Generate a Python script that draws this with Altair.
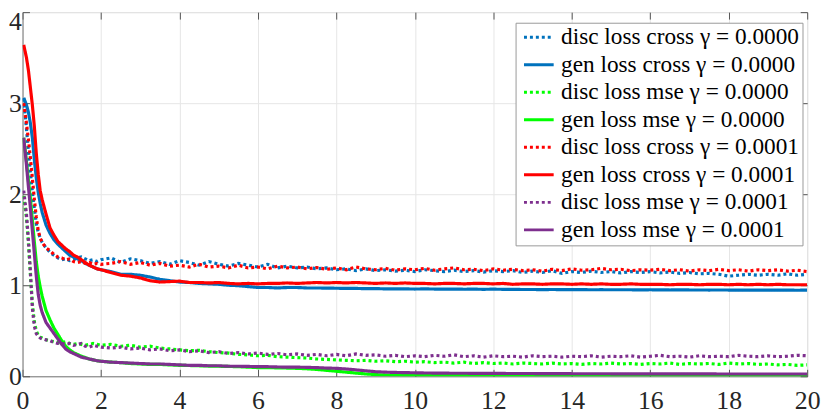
import altair as alt
import pandas as pd

# ---- data ----
X_EARLY = [0.03, 0.1, 0.15, 0.2, 0.25, 0.3, 0.35, 0.4, 0.45, 0.5, 0.6, 0.7, 0.8, 0.9,
           1.0, 1.1, 1.2, 1.3, 1.4, 1.5, 1.6, 1.7, 1.8, 1.9, 2.0]
X_LATE = [2.25, 2.5, 2.75, 3.0, 3.25, 3.5, 3.75, 4.0, 4.25, 4.5, 4.75, 5.0, 5.25, 5.5, 5.75,
          6.0, 6.25, 6.5, 6.75, 7.0, 7.25, 7.5, 7.75, 8.0, 8.25, 8.5, 8.75, 9.0, 9.25, 9.5,
          9.75, 10.0, 10.25, 10.5, 10.75, 11.0, 11.25, 11.5, 11.75, 12.0, 12.25, 12.5, 12.75,
          13.0, 13.25, 13.5, 13.75, 14.0, 14.25, 14.5, 14.75, 15.0, 15.25, 15.5, 15.75, 16.0,
          16.25, 16.5, 16.75, 17.0, 17.25, 17.5, 17.75, 18.0, 18.25, 18.5, 18.75, 19.0, 19.25,
          19.5, 19.75, 20.0]
EPOCH = X_EARLY + X_LATE

DISC_CROSS_0 = [3.05, 2.72, 2.47, 2.24, 2.03, 1.85, 1.68, 1.58, 1.52, 1.47, 1.41, 1.36, 1.33, 1.30,
                1.28, 1.29, 1.27, 1.28, 1.30, 1.31, 1.29, 1.27, 1.28, 1.26, 1.28,
                1.30, 1.25, 1.29, 1.27, 1.24, 1.26, 1.23, 1.27, 1.25, 1.22, 1.26, 1.23, 1.21, 1.24,
                1.22, 1.20, 1.23, 1.19, 1.21, 1.19,
                1.20, 1.18, 1.19, 1.17, 1.18, 1.16, 1.18, 1.16, 1.17, 1.155, 1.165, 1.15,
                1.17, 1.16, 1.15, 1.165, 1.15, 1.16, 1.145, 1.16,
                1.15, 1.16, 1.14, 1.155, 1.14, 1.16, 1.13, 1.15,
                1.14, 1.155, 1.14, 1.15, 1.135, 1.15, 1.14, 1.15,
                1.135, 1.145, 1.13, 1.14, 1.125, 1.13, 1.12, 1.10,
                1.11, 1.12, 1.11, 1.12, 1.11, 1.125, 1.11, 1.12]
GEN_CROSS_0 = [3.06, 2.98, 2.90, 2.78, 2.62, 2.38, 2.18, 2.02, 1.90, 1.80, 1.66, 1.57, 1.50, 1.45,
               1.41, 1.37, 1.33, 1.31, 1.29, 1.27, 1.24, 1.22, 1.20, 1.18, 1.17,
               1.15, 1.12, 1.12, 1.11, 1.09, 1.065, 1.05, 1.035, 1.03, 1.02, 1.015, 1.01, 1.0,
               0.995, 0.985, 0.975, 0.975, 0.97, 0.975, 0.975,
               0.97, 0.97, 0.968, 0.967, 0.965, 0.965, 0.962, 0.963, 0.96, 0.96, 0.96, 0.958,
               0.96, 0.958, 0.957, 0.958, 0.956, 0.957, 0.955, 0.957,
               0.955, 0.955, 0.953, 0.953, 0.952, 0.953, 0.952, 0.951,
               0.952, 0.95, 0.951, 0.95, 0.95, 0.95, 0.949, 0.95,
               0.949, 0.948, 0.949, 0.948, 0.948, 0.947, 0.948, 0.947,
               0.947, 0.946, 0.947, 0.946, 0.946, 0.946, 0.945, 0.946]
DISC_MSE_0 = [1.98, 1.74, 1.46, 1.12, 0.80, 0.60, 0.50, 0.45, 0.43, 0.42, 0.40, 0.39, 0.38, 0.37,
              0.37, 0.38, 0.36, 0.35, 0.36, 0.35, 0.34, 0.35, 0.36, 0.35, 0.34,
              0.35, 0.33, 0.34, 0.32, 0.33, 0.31, 0.30, 0.29, 0.28, 0.285, 0.27, 0.26, 0.255,
              0.24, 0.235, 0.225, 0.23, 0.215, 0.21, 0.205,
              0.20, 0.19, 0.185, 0.18, 0.175, 0.17, 0.175, 0.165, 0.17, 0.16, 0.165, 0.155,
              0.16, 0.15, 0.155, 0.145, 0.155, 0.14, 0.15, 0.14,
              0.145, 0.135, 0.145, 0.14, 0.135, 0.145, 0.135, 0.14,
              0.13, 0.14, 0.135, 0.145, 0.135, 0.14, 0.13, 0.14,
              0.135, 0.145, 0.13, 0.14, 0.135, 0.14, 0.13, 0.145,
              0.135, 0.14, 0.13, 0.135, 0.125, 0.13, 0.12, 0.125]
GEN_MSE_0 = [2.62, 2.36, 2.15, 1.95, 1.72, 1.48, 1.26, 1.10, 0.98, 0.88, 0.72, 0.62, 0.53, 0.46,
             0.39, 0.33, 0.29, 0.26, 0.24, 0.22, 0.205, 0.19, 0.18, 0.17, 0.165,
             0.155, 0.15, 0.14, 0.135, 0.13, 0.13, 0.125, 0.12, 0.118, 0.115, 0.112, 0.11, 0.108,
             0.105, 0.10, 0.095, 0.095, 0.092, 0.09, 0.087,
             0.082, 0.075, 0.065, 0.055, 0.045, 0.035, 0.025, 0.018, 0.014, 0.012, 0.01, 0.009,
             0.009, 0.008, 0.008, 0.008, 0.007, 0.007, 0.007, 0.007,
             0.006, 0.006, 0.006, 0.006, 0.006, 0.006, 0.005, 0.005,
             0.005, 0.005, 0.005, 0.005, 0.005, 0.005, 0.005, 0.005,
             0.005, 0.005, 0.005, 0.005, 0.005, 0.005, 0.005, 0.005,
             0.004, 0.004, 0.004, 0.004, 0.004, 0.004, 0.004, 0.004]
DISC_CROSS_1 = [3.00, 2.78, 2.60, 2.40, 2.18, 1.95, 1.75, 1.60, 1.52, 1.47, 1.41, 1.38, 1.34, 1.31,
                1.30, 1.28, 1.29, 1.26, 1.25, 1.26, 1.24, 1.25, 1.23, 1.24, 1.23,
                1.24, 1.26, 1.23, 1.25, 1.22, 1.24, 1.21, 1.22, 1.20, 1.23, 1.20, 1.21, 1.19, 1.22,
                1.19, 1.20, 1.18, 1.21, 1.19, 1.20,
                1.18, 1.195, 1.175, 1.19, 1.17, 1.20, 1.18, 1.17, 1.185, 1.165, 1.18, 1.17,
                1.185, 1.165, 1.18, 1.19, 1.17, 1.175, 1.16, 1.18,
                1.165, 1.175, 1.16, 1.17, 1.155, 1.175, 1.16, 1.18,
                1.165, 1.17, 1.185, 1.17, 1.175, 1.16, 1.17, 1.165,
                1.175, 1.16, 1.17, 1.155, 1.17, 1.16, 1.175, 1.16,
                1.17, 1.155, 1.17, 1.16, 1.17, 1.155, 1.165, 1.15]
GEN_CROSS_1 = [3.64, 3.50, 3.36, 3.17, 2.98, 2.75, 2.45, 2.22, 2.04, 1.94, 1.78, 1.63, 1.55, 1.48,
               1.44, 1.40, 1.37, 1.33, 1.31, 1.28, 1.25, 1.22, 1.20, 1.18, 1.17,
               1.14, 1.11, 1.10, 1.08, 1.05, 1.035, 1.04, 1.045, 1.03, 1.03, 1.025, 1.03, 1.02,
               1.015, 1.02, 1.015, 1.02, 1.02, 1.025, 1.02,
               1.025, 1.03, 1.025, 1.03, 1.025, 1.03, 1.025, 1.02, 1.025, 1.02, 1.025, 1.02,
               1.02, 1.015, 1.02, 1.02, 1.015, 1.02, 1.02, 1.015,
               1.02, 1.01, 1.015, 1.015, 1.01, 1.015, 1.015, 1.01,
               1.015, 1.01, 1.015, 1.01, 1.01, 1.015, 1.01, 1.01,
               1.01, 1.005, 1.01, 1.01, 1.005, 1.01, 1.01, 1.005,
               1.01, 1.005, 1.01, 1.005, 1.01, 1.005, 1.005, 1.005]
DISC_MSE_1 = [2.04, 1.78, 1.50, 1.15, 0.75, 0.55, 0.47, 0.44, 0.42, 0.41, 0.40, 0.39, 0.37, 0.36,
              0.36, 0.35, 0.36, 0.34, 0.35, 0.36, 0.33, 0.32, 0.34, 0.33, 0.32,
              0.31, 0.32, 0.30, 0.31, 0.29, 0.30, 0.28, 0.29, 0.27, 0.28, 0.26, 0.27, 0.25,
              0.26, 0.245, 0.255, 0.24, 0.25, 0.235, 0.245,
              0.23, 0.24, 0.225, 0.24, 0.225, 0.245, 0.23, 0.235, 0.22, 0.23, 0.215, 0.225,
              0.215, 0.23, 0.22, 0.235, 0.215, 0.225, 0.21, 0.225,
              0.215, 0.22, 0.21, 0.225, 0.215, 0.22, 0.21, 0.22,
              0.215, 0.225, 0.21, 0.22, 0.215, 0.225, 0.21, 0.22,
              0.23, 0.215, 0.22, 0.21, 0.225, 0.215, 0.22, 0.215,
              0.23, 0.22, 0.215, 0.225, 0.215, 0.22, 0.23, 0.225]
GEN_MSE_1 = [2.62, 2.32, 2.08, 1.85, 1.60, 1.35, 1.10, 0.90, 0.78, 0.70, 0.59, 0.53, 0.47, 0.41,
             0.35, 0.30, 0.27, 0.25, 0.23, 0.21, 0.20, 0.19, 0.18, 0.17, 0.165,
             0.155, 0.15, 0.145, 0.14, 0.135, 0.135, 0.13, 0.125, 0.12, 0.12, 0.115, 0.115, 0.11,
             0.11, 0.108, 0.105, 0.105, 0.102, 0.10, 0.10,
             0.098, 0.095, 0.09, 0.087, 0.08, 0.07, 0.06, 0.05, 0.045, 0.042, 0.04, 0.038,
             0.036, 0.035, 0.034, 0.033, 0.033, 0.032, 0.032, 0.031,
             0.031, 0.030, 0.030, 0.030, 0.029, 0.029, 0.029, 0.028,
             0.028, 0.028, 0.028, 0.027, 0.027, 0.027, 0.027, 0.027,
             0.026, 0.026, 0.026, 0.026, 0.026, 0.026, 0.025, 0.025,
             0.025, 0.025, 0.025, 0.025, 0.025, 0.025, 0.025, 0.025]

NAMES = ["disc loss cross γ = 0.0000", "gen loss cross γ = 0.0000",
         "disc loss mse γ = 0.0000", "gen loss mse γ = 0.0000",
         "disc loss cross γ = 0.0001", "gen loss cross γ = 0.0001",
         "disc loss mse γ = 0.0001", "gen loss mse γ = 0.0001"]
SERIES = [DISC_CROSS_0, GEN_CROSS_0, DISC_MSE_0, GEN_MSE_0,
          DISC_CROSS_1, GEN_CROSS_1, DISC_MSE_1, GEN_MSE_1]
COLORS = ["#0072BD", "#0072BD", "#00FF00", "#00FF00",
          "#FF0000", "#FF0000", "#7E2F8E", "#7E2F8E"]
DASHES = [[3, 3], [1, 0], [3, 3], [1, 0], [3, 3], [1, 0], [3, 3], [1, 0]]
XTICKS = [0, 2, 4, 6, 8, 10, 12, 14, 16, 18, 20]
YTICKS = [0, 1, 2, 3, 4]

rows = []
for name, vals in zip(NAMES, SERIES):
    assert len(vals) == len(EPOCH), (name, len(vals))
    for xv, yv in zip(EPOCH, vals):
        rows.append({"x": xv, "y": yv, "series": name})
df = pd.DataFrame(rows)

FONT = "Liberation Serif, Times New Roman, serif"
LEG_FS = 23.5
xscale = alt.Scale(domain=[0, 20], nice=False, zero=False)
yscale = alt.Scale(domain=[0, 4], nice=False, zero=False)

legend = alt.Legend(
    orient="none", legendX=498.3, legendY=10.7, title=None,
    symbolType="stroke", symbolSize=900, symbolStrokeWidth=3,
    labelFont=FONT, labelFontSize=LEG_FS, labelColor="black", labelLimit=500,
    padding=3, symbolOffset=4, labelOffset=6, rowPadding=2.8, clipHeight=LEG_FS,
    strokeColor="#999999", fillColor="white",
)

base = alt.Chart(df)

lines = base.mark_line(strokeWidth=3.2, clip=True, strokeCap="butt").encode(
    x=alt.X("x:Q", scale=xscale, axis=alt.Axis(
        orient="bottom", values=XTICKS, title=None, format="d",
        grid=True, gridColor="#e6e6e6", ticks=False, tickSize=0,
        domain=True, domainColor="#808080",
        labelFont=FONT, labelFontSize=26, labelColor="#262626",
        labelPadding=12, labelFlush=False, labelOverlap=False)),
    y=alt.Y("y:Q", scale=yscale, axis=alt.Axis(
        orient="left", values=YTICKS, title=None, format="d",
        grid=True, gridColor="#e6e6e6", ticks=False, tickSize=0,
        domain=True, domainColor="#808080",
        labelFont=FONT, labelFontSize=26, labelColor="#262626",
        labelPadding=1.2, labelFlush=False, labelOverlap=False,
        labelOffset={"condition": {"test": "datum.value == 4", "value": 10}, "value": 0})),
    color=alt.Color("series:N", scale=alt.Scale(domain=NAMES, range=COLORS), legend=legend),
    strokeDash=alt.StrokeDash("series:N", scale=alt.Scale(domain=NAMES, range=DASHES), legend=legend),
)

def tick_axis(orient):
    return alt.Axis(orient=orient, offset=-7, title=None, grid=False, ticks=True, tickSize=7,
                    tickColor="#555555", tickWidth=1, labels=False, domain=False,
                    values=XTICKS if orient in ("top", "bottom") else YTICKS)

ticks_bl = base.mark_point(opacity=0, size=1).encode(
    x=alt.X("x:Q", scale=xscale, axis=tick_axis("bottom")),
    y=alt.Y("y:Q", scale=yscale, axis=tick_axis("left")),
)
ticks_tr = base.mark_point(opacity=0, size=1).encode(
    x=alt.X("x:Q", scale=xscale, axis=tick_axis("top")),
    y=alt.Y("y:Q", scale=yscale, axis=tick_axis("right")),
)

chart = alt.layer(lines, ticks_bl, ticks_tr).resolve_axis(
    x="independent", y="independent"
).properties(
    width=793, height=368,
    autosize=alt.AutoSizeParams(type="none"),
    padding={"left": 14.7, "top": 2, "right": 16, "bottom": 40},
    background="white",
).configure(
    font=FONT
).configure_view(
    stroke="#cccccc", strokeWidth=1
).configure_legend(
    labelFont=FONT, labelFontSize=LEG_FS, labelColor="black", labelLimit=500,
    symbolType="stroke", symbolSize=900, symbolStrokeWidth=3,
    padding=3, symbolOffset=4, labelOffset=6, rowPadding=2.8, clipHeight=LEG_FS,
    strokeColor="#999999", fillColor="white",
)

chart.save("out.html", embed_options={"renderer": "svg", "actions": False})
